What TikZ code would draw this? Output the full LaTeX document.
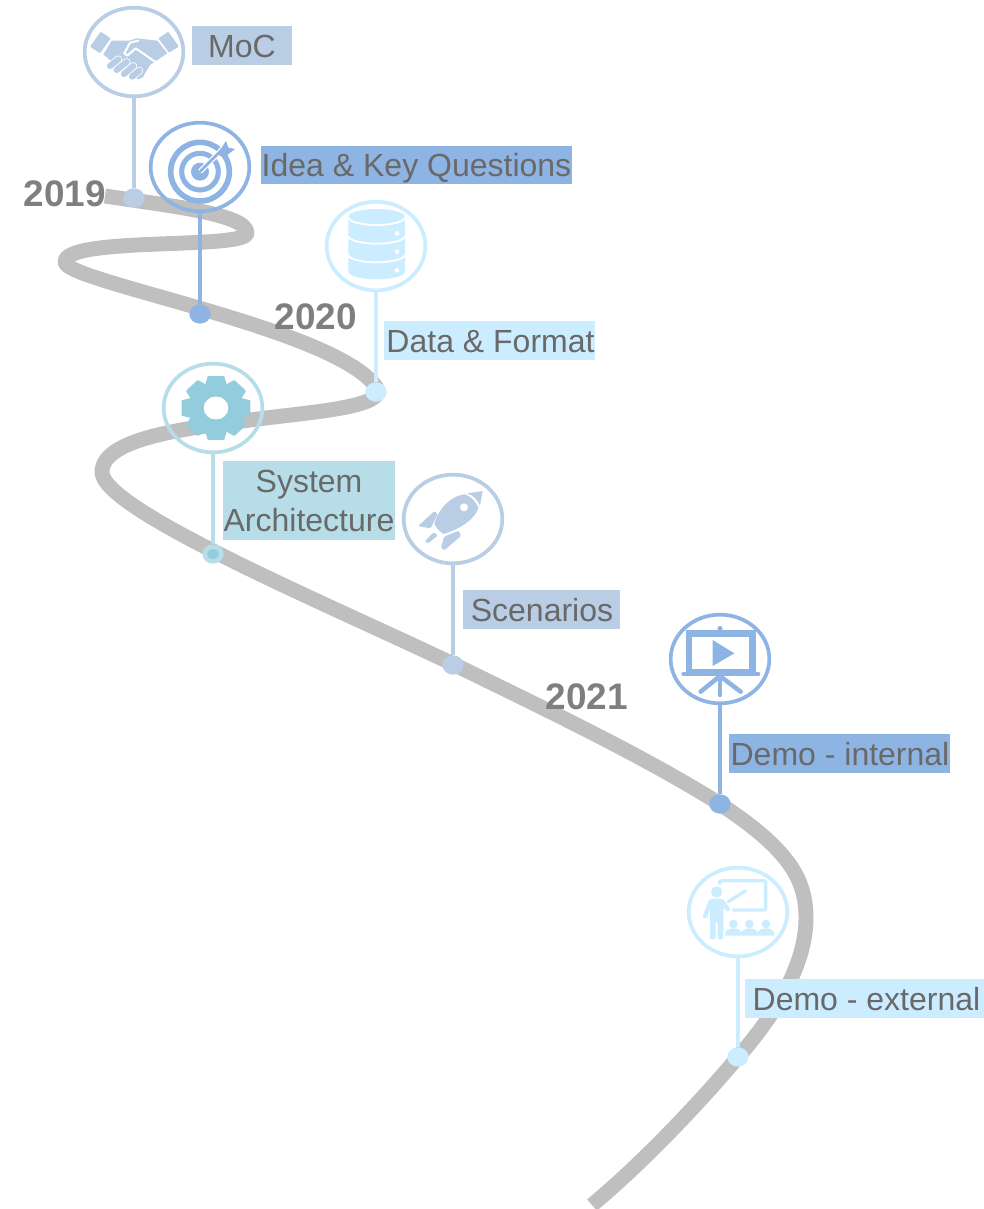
\documentclass[tikz,border=0pt]{standalone}
\usepackage{fontspec}
\usetikzlibrary{shapes.geometric}
\setmainfont{Liberation Sans}
\definecolor{cA}{HTML}{B9CDE5}
\definecolor{cB}{HTML}{8EB4E3}
\definecolor{cC}{HTML}{CCECFF}
\definecolor{cD}{HTML}{B7DEE8}
\definecolor{cE}{HTML}{93CDDD}
\definecolor{road}{HTML}{BFBFBF}
\definecolor{yr}{HTML}{7F7F7F}
\definecolor{txt}{HTML}{696969}
\tikzset{
  ring/.style={ellipse,draw=#1,line width=2.8pt,minimum width=74pt,minimum height=66.5pt,inner sep=0pt},
  stem/.style={draw=#1,line width=2.9pt},
  dot/.style={ellipse,fill=#1,minimum width=16pt,minimum height=14.5pt,inner sep=0pt},
  lab/.style={fill=#1,inner sep=0pt},
  labtext/.style={text=txt,inner sep=0pt,font=\fontsize{24}{29.3}\selectfont,align=center},
  year/.style={text=yr,font=\fontsize{27.7}{32}\selectfont\bfseries,inner sep=0pt},
  zoomed/.style={x=0.25pt,y=-0.25pt},
  roadline/.style={draw=road,line width=11.2pt,line cap=butt,line join=round}
}
\begin{document}
\begin{tikzpicture}[x=0.75pt,y=-0.75pt]
\useasboundingbox (0,0) rectangle (984,1209);
% road
\draw[roadline] (105,196) .. controls (170,206) and (247,214) .. (247,233)
  .. controls (247,250) and (65,236) .. (65,262)
  .. controls (65,282) and (345,330) .. (378,390)
  .. controls (380,408) and (310,412) .. (250,420)
  .. controls (200,427) and (102,436) .. (102,472)
  .. controls (102,510) and (330,605) .. (453,664)
  .. controls (560,716) and (650,760) .. (720,804)
  .. controls (790,850) and (806,880) .. (806,918)
  .. controls (806,965) and (775,1015) .. (738,1057)
  .. controls (695,1108) and (640,1165) .. (592,1205);
% years
\node[year] (y19) at (65,194) {2019};
\node[year] (y20) at (316,317) {2020};
\node[year] (y21) at (587,697) {2021};
% circles
\node[ring=cA] (c1) at (134,52) {};
\node[ring=cB] (c2) at (200,167) {};
\node[ring=cC] (c3) at (376,246) {};
\node[ring=cD] (c4) at (213,408) {};
\node[ring=cA] (c5) at (453,519) {};
\node[ring=cB] (c6) at (720,659) {};
\node[ring=cC] (c7) at (738,912) {};
% dots
\node[dot=cA] (d1) at (134,198) {};
\node[dot=cB] (d2) at (200,314) {};
\node[dot=cC] (d3) at (376,392) {};
\node[dot=cD] (d4) at (213,554) {};
\node[ellipse,fill=cE,minimum width=9pt,minimum height=7.5pt,inner sep=0pt] (d4b) at (213,554) {};
\node[dot=cA] (d5) at (453,665) {};
\node[dot=cB] (d6) at (720,804) {};
\node[dot=cC] (d7) at (738,1057) {};
% stems
\draw[stem=cA] (c1) -- (d1);
\draw[stem=cB] (c2) -- (d2);
\draw[stem=cC] (c3) -- (d3);
\draw[stem=cD] (c4) -- (d4);
\draw[stem=cA] (c5) -- (d5);
\draw[stem=cB] (c6) -- (d6);
\draw[stem=cC] (c7) -- (d7);
% labels
\node[lab=cA,minimum width=75pt,minimum height=29.25pt] at (242,45.5) {};
\node[labtext] (l1) at (242,46) {MoC};
\node[lab=cB,minimum width=233.25pt,minimum height=28.5pt] at (416.5,165) {};
\node[labtext] (l2) at (416.5,168) {Idea \& Key Questions};
\node[lab=cC,minimum width=158.25pt,minimum height=29.25pt] at (489.5,340.5) {};
\node[labtext] (l3) at (490.5,341.5) {Data \& Format};
\node[lab=cD,minimum width=129pt,minimum height=59.25pt] at (309,500.5) {};
\node[labtext] (l4) at (309,501) {System\\Architecture};
\node[lab=cA,minimum width=117.75pt,minimum height=29.25pt] at (541.5,609.5) {};
\node[labtext] (l5) at (542,610.5) {Scenarios};
\node[lab=cB,minimum width=165.75pt,minimum height=29.25pt] at (839.5,753.5) {};
\node[labtext] (l6) at (840,754.5) {Demo - internal};
\node[lab=cC,minimum width=179.25pt,minimum height=29.25pt] at (864.5,998.5) {};
\node[labtext] (l7) at (866.5,999.5) {Demo - external};
% handshake
\begin{scope}[shift={(70,0)},zoomed]
\fill[cA,rounded corners=0.7pt] (92,95)--(122,115)--(90,160)--(60,140)--cycle;
\fill[cA,rounded corners=0.7pt] (295,95)--(327,140)--(297,158)--(265,115)--cycle;
\fill[cA] (125,122)--(178,122)--(200,115)--(262,122)--(292,160)--(262,180)--(240,195)--(218,232)--(205,238)--(150,205)--(120,180)--(100,163)--cycle;
\draw[white,line width=1.5pt,line join=round,line cap=round] (163,160)--(180,128)--(205,122);
\draw[white,line width=1.5pt,line join=round,line cap=round] (163,160)--(172,167)--(197,145)--(262,190);
\foreach \a/\b/\c/\d in {120/198/145/178,140/210/170/186,162/222/190/198,186/230/208/212}
  \draw[white,line width=5.8pt,line cap=round] (\a,\b)--(\c,\d);
\foreach \a/\b/\c/\d in {120/198/145/178,140/210/170/186,162/222/190/198,186/230/208/212}
  \draw[cA,line width=4.6pt,line cap=round] (\a,\b)--(\c,\d);
% target
\begin{scope}[shift={(390,515)}]
\draw[cB,line width=4.2pt] (0,0) circle[radius=88];
\draw[cB,line width=3.8pt] (0,0) circle[radius=55];
\fill[cB] (0,0) circle[radius=27];
\draw[white,line width=4pt] (0,0)--(90,-90);
\draw[cB,line width=2.2pt] (0,0)--(70,-70);
\fill[cB] (52,-52)--(78,-92)--(85,-72)--(105,-68)--(72,-42)--cycle;
\end{scope}
\end{scope}
% database
\begin{scope}[shift={(150,190)},zoomed]
\fill[cC] (595,80) arc[x radius=85,y radius=23,start angle=180,end angle=360] -- (765,245)
  arc[x radius=85,y radius=23,start angle=0,end angle=180] -- cycle;
\foreach \y in {82,138,194}
  \draw[white,line width=1.4pt] (595,\y) arc[x radius=85,y radius=23,start angle=180,end angle=0];
\foreach \y in {130,185,241}
  \fill[white] (741,\y) circle[radius=7];
\end{scope}
% gear
\begin{scope}[shift={(150,190)},zoomed]
\begin{scope}[shift={(198,654)},yscale=0.93]
\fill[cE] (0,0) circle[radius=80];
\foreach \a in {0,45,...,315}
  \fill[cE,rotate=\a,rounded corners=0.6pt] (-25,-103)--(25,-103)--(36,-60)--(-36,-60)--cycle;
\fill[white] (0,0) circle[radius=37];
\end{scope}
\end{scope}
% rocket
\begin{scope}[shift={(390,460)},zoomed]
\fill[cA] (232,100)--(278,93)--(270,137) .. controls (262,118) and (250,106) .. cycle;
\fill[cA] (133,192) .. controls (145,145) and (185,105) .. (226,103) .. controls (245,112) and (258,125) .. (265,143) .. controls (258,175) and (210,208) .. (160,222) .. controls (150,215) and (140,205) .. cycle;
\fill[white] (222,142) circle[radius=12];
\fill[cA,rounded corners=1pt] (84,198)--(134,153)--(143,163)--(122,205)--cycle;
\fill[cA,rounded corners=1pt] (153,264)--(162,230)--(207,212)--(213,228)--(163,271)--cycle;
\fill[cA,rounded corners=1pt] (104,245)--(130,217)--(144,226)--(114,250)--cycle;
\end{scope}
% screen
\begin{scope}[shift={(390,460)},zoomed]
\fill[cB] (887,510) rectangle (1098,640);
\fill[white] (905,530) rectangle (1078,628);
\draw[cB,line width=3pt,line cap=round] (880,642)--(1105,642);
\fill[cB] (990,506) circle[radius=8];
\fill[cB] (968,540)--(1033,580)--(968,618)--cycle;
\draw[cB,line width=3.4pt,line cap=round] (990,650)--(990,705);
\draw[cB,line width=3.4pt,line cap=round] (985,652)--(932,695);
\draw[cB,line width=3.4pt,line cap=round] (995,652)--(1052,695);
\end{scope}
% presenter
\begin{scope}[shift={(670,850)},zoomed]
\draw[cC,line width=2.5pt,rounded corners=1.5pt] (149,104)--(149,92)--(287,92)--(287,180)--(187,180);
\draw[cC,line width=2.5pt,line cap=round] (175,155)--(227,122);
\fill[cC] (140,126) circle[radius=17];
\fill[cC,rounded corners=1.5pt] (118,146)--(158,146)--(182,178)--(172,186)--(160,170)--(160,268)--(143,268)--(143,215)--(137,215)--(137,268)--(120,268)--(120,175)--(110,206)--(97,202)--cycle;
\foreach \x in {190,238,288}{
  \fill[cC] (\x,222) circle[radius=13];
  \fill[cC] (\x-25,257) -- (\x-25,250) .. controls (\x-25,240) and (\x-12,235) .. (\x,235) .. controls (\x+12,235) and (\x+25,240) .. (\x+25,250) -- (\x+25,257) -- cycle;
}
\end{scope}
\end{tikzpicture}
\end{document}
